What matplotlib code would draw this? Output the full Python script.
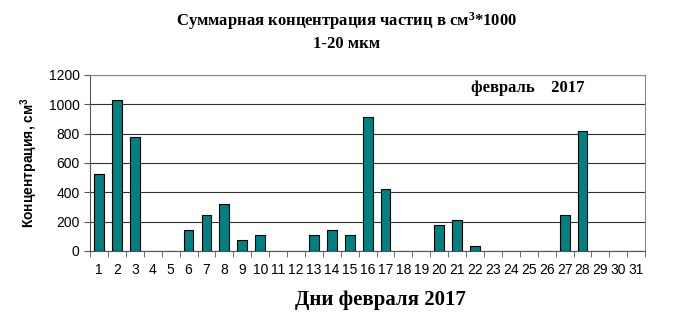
import numpy as np
import matplotlib.pyplot as plt

plt.rcParams['mathtext.default'] = 'regular'

days = list(range(1, 32))
values = [528, 1029, 774, 0, 0, 143, 246, 321, 73, 107, 0, 0, 107, 143, 109,
          915, 424, 0, 0, 178, 212, 36, 0, 0, 0, 0, 248, 815, 0, 0, 0]
y_ticks = [0, 200, 400, 600, 800, 1000, 1200]

fig = plt.figure(figsize=(6.93, 3.23), dpi=100)
ax = fig.add_axes([0.130, 0.223, 0.801, 0.545])

ax.bar(days, values, width=0.55, color='#008080', edgecolor='black', linewidth=0.8, zorder=3)

ax.set_xlim(0.5, 31.5)
ax.set_ylim(0, 1200)
ax.set_yticks(y_ticks)
ax.yaxis.grid(True, color='#333333', linewidth=0.8, zorder=0)
ax.set_xticks(days)
ax.set_xticks(np.arange(0.5, 32, 1), minor=True)
ax.tick_params(axis='x', which='major', length=0, pad=9)
ax.tick_params(axis='x', which='minor', length=4, color='#555555')
ax.tick_params(axis='y', length=4, color='#555555')
for lbl in ax.get_xticklabels() + ax.get_yticklabels():
    lbl.set_fontfamily('Liberation Sans')
    lbl.set_fontsize(10)

for s in ['top', 'right']:
    ax.spines[s].set_color('#888888')
ax.spines['left'].set_color('#555555')
ax.spines['bottom'].set_color('#555555')

ax.set_ylabel('Концентрация, см$^3$', fontfamily='Liberation Sans', fontweight='bold', fontsize=10, labelpad=6)
ax.text(0.686, 0.925, 'февраль    2017', transform=ax.transAxes, fontfamily='Liberation Serif',
        fontweight='bold', fontsize=12, va='center', ha='left')

fig.text(0.5, 0.935, 'Суммарная концентрация частиц в см$^3$*1000', ha='center', va='center',
         fontfamily='Liberation Serif', fontweight='bold', fontsize=12)
fig.text(0.5, 0.865, '1-20 мкм', ha='center', va='center',
         fontfamily='Liberation Serif', fontweight='bold', fontsize=12)
fig.text(0.549, 0.07, 'Дни февраля 2017', ha='center', va='center',
         fontfamily='Liberation Serif', fontweight='bold', fontsize=15)

fig.savefig('out.png', dpi=100)
